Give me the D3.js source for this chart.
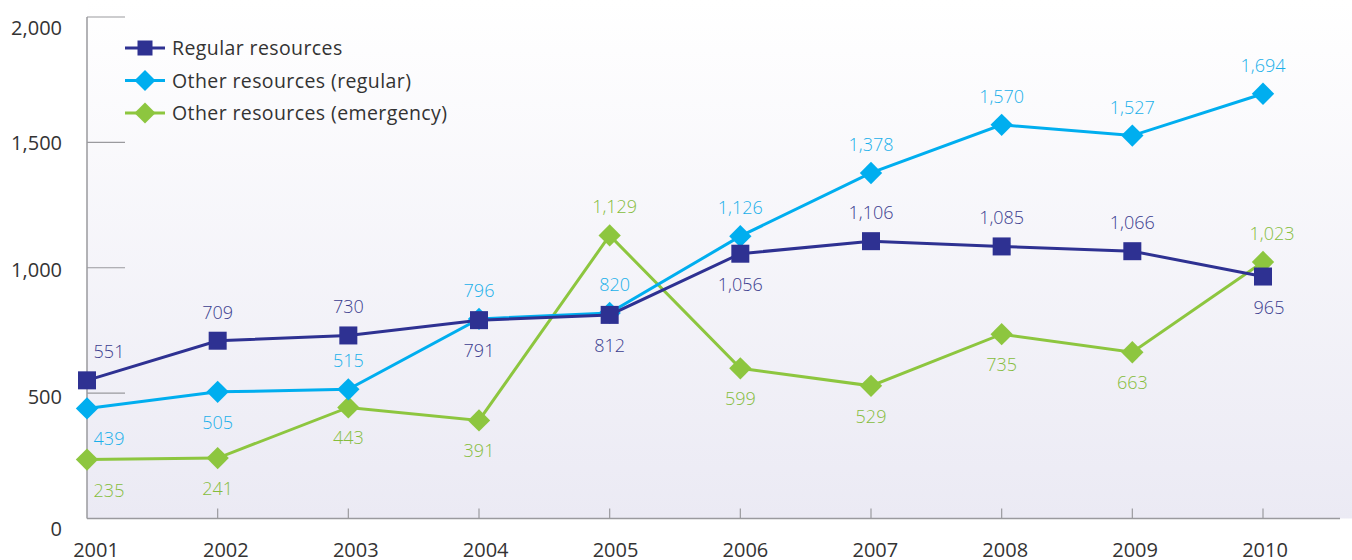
<!DOCTYPE html>
<html>
<head>
<meta charset="utf-8">
<script src="https://cdn.jsdelivr.net/npm/d3@7"></script>
<style>
  body { margin: 0; background: #fff; }
  svg text { font-family: "Open Sans", Roboto, sans-serif; font-weight: 400; }
</style>
</head>
<body>
<svg id="chart" width="1352" height="560"></svg>
<script>
// data
var years = ["2001","2002","2003","2004","2005","2006","2007","2008","2009","2010"];
var regular = [551, 709, 730, 791, 812, 1056, 1106, 1085, 1066, 965];
var otherRegular = [439, 505, 515, 796, 820, 1126, 1378, 1570, 1527, 1694];
var otherEmergency = [235, 241, 443, 391, 1129, 599, 529, 735, 663, 1023];
var yTicks = [0, 500, 1000, 1500, 2000];
var seriesNames = ["Regular resources", "Other resources (regular)", "Other resources (emergency)"];

// where each value label sits: 1 = above the point, -1 = below
var regularPos = [1, 1, 1, -1, -1, -1, 1, 1, 1, -1];
var otherRegularPos = [-1, -1, 1, 1, 1, 1, 1, 1, 1, 1];
var emergencyPos = [-1, -1, -1, -1, 1, -1, -1, -1, -1, 1];

var width = 1352, height = 560;
var plotLeft = 87, plotBottom = 518.5, plotTop = 17;

var svg = d3.select("#chart");

var x = d3.scalePoint().domain(years).range([87, 1263]);
// year labels sit on a slightly different spacing than the ticks
var xLabel = d3.scalePoint().domain(years).range([96, 1265]);
var y = d3.scaleLinear().domain([0, 2000]).range([plotBottom, plotTop]);

// background gradient
var defs = svg.append("defs");
var grad = defs.append("linearGradient").attr("id", "bg")
  .attr("x1", 0).attr("y1", 0).attr("x2", 0).attr("y2", 1);
grad.append("stop").attr("offset", "0%").attr("stop-color", "#ffffff");
grad.append("stop").attr("offset", "100%").attr("stop-color", "#ebeaf4");

svg.append("rect")
  .attr("x", plotLeft).attr("y", 0)
  .attr("width", width - plotLeft).attr("height", plotBottom)
  .attr("fill", "url(#bg)");

// y axis line and ticks
svg.append("line")
  .attr("x1", plotLeft).attr("x2", plotLeft)
  .attr("y1", plotTop).attr("y2", plotBottom)
  .style("stroke", "#9a9a9e").style("stroke-width", 1.5);

svg.append("g").selectAll("line").data(yTicks).enter()
  .append("line")
  .attr("x1", plotLeft).attr("x2", plotLeft + 38)
  .attr("y1", function(d) { return y(d); })
  .attr("y2", function(d) { return y(d); })
  .style("stroke", "#9a9a9e").style("stroke-width", 1.2);

// labels drift downward a bit toward both ends of the axis
var yLabelShift = {0: 17.5, 500: 11, 1000: 9, 1500: 7.5, 2000: 18};
svg.append("g").selectAll("text").data(yTicks).enter()
  .append("text")
  .attr("x", 62)
  .attr("y", function(d) { return y(d) + yLabelShift[d]; })
  .attr("text-anchor", "end")
  .style("font-size", "20px")
  .style("fill", "#333")
  .text(function(d) { return d3.format(",")(d); });

// x axis line and ticks
svg.append("line")
  .attr("x1", plotLeft).attr("x2", 1340)
  .attr("y1", plotBottom).attr("y2", plotBottom)
  .style("stroke", "#9a9a9e").style("stroke-width", 1.5);

svg.append("g").selectAll("line").data(years.slice(1)).enter()
  .append("line")
  .attr("x1", function(d) { return x(d); })
  .attr("x2", function(d) { return x(d); })
  .attr("y1", plotBottom).attr("y2", plotBottom - 10)
  .style("stroke", "#9a9a9e").style("stroke-width", 1.2);

svg.append("g").selectAll("text").data(years).enter()
  .append("text")
  .attr("x", function(d) { return xLabel(d); })
  .attr("y", 557)
  .attr("text-anchor", "middle")
  .style("font-size", "20px")
  .style("fill", "#333")
  .text(function(d) { return d; });

var series = [
  {name: seriesNames[0], values: regular, pos: regularPos, color: "#2e3192", label: "#3b3d8f", shape: "square"},
  {name: seriesNames[1], values: otherRegular, pos: otherRegularPos, color: "#00aeef", label: "#1ab0ea", shape: "diamond"},
  {name: seriesNames[2], values: otherEmergency, pos: emergencyPos, color: "#8dc63f", label: "#86bd3c", shape: "diamond"}
];

var line = d3.line()
  .x(function(d, i) { return x(years[i]); })
  .y(function(d) { return y(d); });

function marker(g, shape, color, size) {
  if (shape == "square") {
    g.append("rect")
      .attr("x", -size / 2).attr("y", -size / 2)
      .attr("width", size).attr("height", size)
      .attr("fill", color);
  } else {
    var h = size * 0.62;
    g.append("path")
      .attr("d", "M0," + (-h) + "L" + h + ",0L0," + h + "L" + (-h) + ",0Z")
      .attr("fill", color);
  }
}

// draw order: emergency, other regular, regular on top
var order = [2, 1, 0];
order.forEach(function(k) {
  var s = series[k];
  var g = svg.append("g");
  g.append("path")
    .attr("d", line(s.values))
    .attr("fill", "none")
    .style("stroke", s.color)
    .style("stroke-width", 3);

  s.values.forEach(function(v, i) {
    var m = g.append("g").attr("transform", "translate(" + x(years[i]) + "," + y(v) + ")");
    marker(m, s.shape, s.color, 18);
  });
});

// value labels
series.forEach(function(s) {
  svg.append("g").selectAll("text").data(s.values).enter()
    .append("text")
    .attr("x", function(d, i) {
      var dx = 0;
      if (i == 0) dx = 22;
      if (i == 9 && s.pos[i] == 1 && s.shape == "diamond" && s.values[i] < 1500) dx = 9;
      if (i == 9 && s.shape == "square") dx = 6;
      if (i == 4 && s.pos[i] == 1) dx = 5;
      return x(years[i]) + dx;
    })
    .attr("y", function(d, i) { return y(d) + (s.pos[i] == 1 ? -22 : 37); })
    .attr("text-anchor", "middle")
    .style("font-size", "18px")
    .style("font-weight", 300)
    .style("fill", s.label)
    .text(function(d) { return d3.format(",")(d); });
});

// legend
var legend = svg.append("g");
series.forEach(function(s, i) {
  var ly = 48 + i * 32.5;
  legend.append("line")
    .attr("x1", 125).attr("x2", 165)
    .attr("y1", ly).attr("y2", ly)
    .style("stroke", s.color).style("stroke-width", 3);
  var m = legend.append("g").attr("transform", "translate(145," + ly + ")");
  marker(m, s.shape, s.color, s.shape == "square" ? 15 : 17);
  legend.append("text")
    .attr("x", 172).attr("y", ly + 7)
    .style("font-size", "19.5px")
    .style("letter-spacing", "0.4px")
    .style("fill", "#333")
    .text(s.name);
});
</script>
</body>
</html>
